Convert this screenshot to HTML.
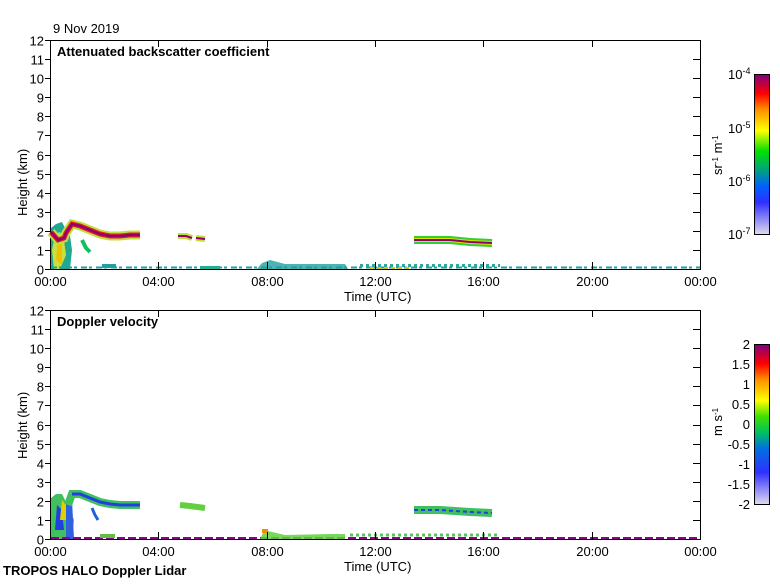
<!DOCTYPE html>
<html><head><style>
body{margin:0;background:#fff;}
svg text{font-family:"Liberation Sans",sans-serif;font-size:13px;fill:#000;}
</style></head><body>
<svg width="780" height="580" viewBox="0 0 780 580" xmlns="http://www.w3.org/2000/svg">
<defs>
<linearGradient id="cb1" x1="0" y1="1" x2="0" y2="0">
<stop offset="0" stop-color="#e0dcec"/><stop offset="0.2" stop-color="#3030ff"/>
<stop offset="0.3" stop-color="#0060ff"/><stop offset="0.4" stop-color="#00a080"/>
<stop offset="0.52" stop-color="#00e000"/><stop offset="0.65" stop-color="#ffff00"/>
<stop offset="0.78" stop-color="#ff9000"/><stop offset="0.88" stop-color="#ff0000"/>
<stop offset="1" stop-color="#800080"/></linearGradient>
<linearGradient id="cb2" x1="0" y1="1" x2="0" y2="0">
<stop offset="0" stop-color="#e0dcec"/><stop offset="0.2" stop-color="#3030ff"/>
<stop offset="0.35" stop-color="#0070e0"/><stop offset="0.45" stop-color="#00c060"/>
<stop offset="0.55" stop-color="#40e000"/><stop offset="0.65" stop-color="#ffff00"/>
<stop offset="0.78" stop-color="#ff9000"/><stop offset="0.88" stop-color="#ff0000"/>
<stop offset="1" stop-color="#800080"/></linearGradient>
</defs>
<text x="53" y="33">9 Nov 2019</text>
<g>
<rect x="50.5" y="40.5" width="650" height="229" fill="none" stroke="#000"/>
<polygon points="51,269 51,228 56,224 62,222 66,230 70,236 72,250 70,269" fill="#20a890"/>
<polygon points="52,250 55,235 60,232 64,240 66,255 60,269 54,269" fill="#c8e040"/>
<polygon points="56,260 58,240 62,245 62,265" fill="#f0c000"/>
<polyline points="51,232 58,240 64,238 66,233 72,224 80,226 90,230 100,234 110,236 120,236 130,235 140,235" fill="none" stroke="#c0e040" stroke-width="9"/>
<polyline points="51,232 58,240 64,238 66,233 72,224 80,226 90,230 100,234 110,236 120,236 130,235 140,235" fill="none" stroke="#e02020" stroke-width="5"/>
<polyline points="51,232 58,240 64,238 66,233 72,224 80,226 90,230 100,234 110,236 120,236 130,235 140,235" fill="none" stroke="#900070" stroke-width="2.5"/>
<polyline points="82,240 86,248 90,252" fill="none" stroke="#10c060" stroke-width="4"/>
<polyline points="178,236 186,236 192,238" fill="none" stroke="#c0e040" stroke-width="6"/>
<polyline points="178,236 186,236 192,238" fill="none" stroke="#900070" stroke-width="2"/>
<polyline points="196,238 205,239" fill="none" stroke="#c0e040" stroke-width="6"/>
<polyline points="196,238 205,239" fill="none" stroke="#900070" stroke-width="2"/>
<polyline points="414,240 430,240 450,240 470,242 492,243" fill="none" stroke="#30d030" stroke-width="8"/>
<polyline points="414,240 430,240 450,240 470,242 492,243" fill="none" stroke="#e0e000" stroke-width="4"/>
<polyline points="414,240 430,240 450,240 470,242 492,243" fill="none" stroke="#900070" stroke-width="2"/>
<line x1="51" y1="267.5" x2="700" y2="267.5" stroke="#20a0a0" stroke-width="2" stroke-dasharray="6 2 3 4"/>
<polygon points="257,269 262,263 270,260 285,264 320,264 345,264 348,269" fill="#20a0a0" opacity="0.8"/>
<rect x="102" y="264" width="14" height="4" fill="#20a0a0"/>
<rect x="200" y="266" width="20" height="3" fill="#20b090"/>
<line x1="360" y1="265.5" x2="500" y2="265.5" stroke="#30a8a0" stroke-width="3" stroke-dasharray="3 3"/>
<line x1="370" y1="268" x2="410" y2="268" stroke="#e0c000" stroke-width="2" stroke-dasharray="4 3"/>
<rect x="754.5" y="74.5" width="15" height="160" fill="url(#cb1)" stroke="#000"/>
<text x="728" y="79" font-size="12">10<tspan dy="-5" font-size="9">-4</tspan></text>
<text x="728" y="133" font-size="12">10<tspan dy="-5" font-size="9">-5</tspan></text>
<text x="728" y="186" font-size="12">10<tspan dy="-5" font-size="9">-6</tspan></text>
<text x="728" y="239" font-size="12">10<tspan dy="-5" font-size="9">-7</tspan></text>
<text transform="translate(722,175) rotate(-90)" font-size="12">sr<tspan dy="-4" font-size="8">-1</tspan><tspan dy="4"> m</tspan><tspan dy="-4" font-size="8">-1</tspan></text>
<text x="57" y="56" font-weight="bold">Attenuated backscatter coefficient</text>
<text transform="translate(27,216) rotate(-90)" font-size="12">Height (km)</text>
<text x="344" y="301" font-size="12">Time (UTC)</text>
</g>
<g>
<rect x="50.5" y="310.5" width="650" height="229" fill="none" stroke="#000"/>
<polygon points="51,539 51,498 56,494 62,494 66,502 70,510 74,520 72,539" fill="#40c060"/>
<polygon points="55,530 57,505 62,510 64,530" fill="#2040e0"/>
<polygon points="60,520 62,500 66,505 66,520" fill="#e0d000"/>
<polygon points="66,539 66,505 72,500 74,539" fill="#3060e0"/>
<polyline points="68,505 72,494 80,494 90,498 100,502 110,504 120,505 130,505 140,505" fill="none" stroke="#40c060" stroke-width="8"/>
<polyline points="72,494 80,494 90,498 100,502 110,504 120,505 130,505 140,505" fill="none" stroke="#2040e0" stroke-width="3"/>
<polyline points="92,508 95,515 98,520" fill="none" stroke="#2060e0" stroke-width="3"/>
<polyline points="180,505 190,506 205,508" fill="none" stroke="#60d040" stroke-width="6"/>
<polyline points="414,510 440,510 470,512 492,513" fill="none" stroke="#40c060" stroke-width="8"/>
<polyline points="414,510 440,510 470,512 492,513" fill="none" stroke="#2040e0" stroke-width="2" stroke-dasharray="4 3"/>
<line x1="51" y1="538" x2="700" y2="538" stroke="#900090" stroke-width="2" stroke-dasharray="8 3"/>
<polygon points="260,539 263,533 268,531 285,535 330,534 345,534 345,539" fill="#60d040" opacity="0.85"/>
<rect x="262" y="529" width="6" height="4" fill="#f09000"/>
<rect x="100" y="534" width="15" height="4" fill="#60c040"/>
<line x1="350" y1="535" x2="500" y2="535" stroke="#60c060" stroke-width="3" stroke-dasharray="3 3"/>
<rect x="754.5" y="344.5" width="15" height="160" fill="url(#cb2)" stroke="#000"/>
<g font-size="12" text-anchor="end">
<text x="750" y="349">2</text><text x="750" y="369">1.5</text><text x="750" y="389">1</text>
<text x="750" y="409">0.5</text><text x="750" y="429">0</text><text x="750" y="449">-0.5</text>
<text x="750" y="469">-1</text><text x="750" y="489">-1.5</text><text x="750" y="509">-2</text>
</g>
<text transform="translate(722,436) rotate(-90)" font-size="12">m s<tspan dy="-4" font-size="8">-1</tspan></text>
<text x="57" y="326" font-weight="bold">Doppler velocity</text>
<text transform="translate(27,459) rotate(-90)" font-size="12">Height (km)</text>
<text x="344" y="571" font-size="12">Time (UTC)</text>
<text x="3" y="575" font-weight="bold" font-size="12">TROPOS HALO Doppler Lidar</text>
</g>
<g id="ax" stroke="#000" stroke-width="1"></g>
<g id="lab" font-size="13"></g>
<script>
var ax=document.getElementById('ax'),lab=document.getElementById('lab'),NS='http://www.w3.org/2000/svg';
function L(x1,y1,x2,y2){var l=document.createElementNS(NS,'line');l.setAttribute('x1',x1);l.setAttribute('y1',y1);l.setAttribute('x2',x2);l.setAttribute('y2',y2);ax.appendChild(l);}
function T(x,y,s,a){var t=document.createElementNS(NS,'text');t.setAttribute('x',x);t.setAttribute('y',y);t.setAttribute('text-anchor',a);t.textContent=s;lab.appendChild(t);}
[[40,269],[310,539]].forEach(function(p){var top=p[0],bot=p[1],h=(bot-top)/12;
for(var k=0;k<=12;k++){var y=Math.round(bot-k*h)+0.5;L(45,y,50,y);L(693,y,700,y);T(44,y+5,String(k),'end');}
for(var i=0;i<=6;i++){var x=Math.round(50+i*108.33)+0.5;L(x,bot,x,bot-7);L(x,top,x,top+7);
T(x,bot+17,['00:00','04:00','08:00','12:00','16:00','20:00','00:00'][i],'middle');}});
</script>
</svg>
</body></html>
